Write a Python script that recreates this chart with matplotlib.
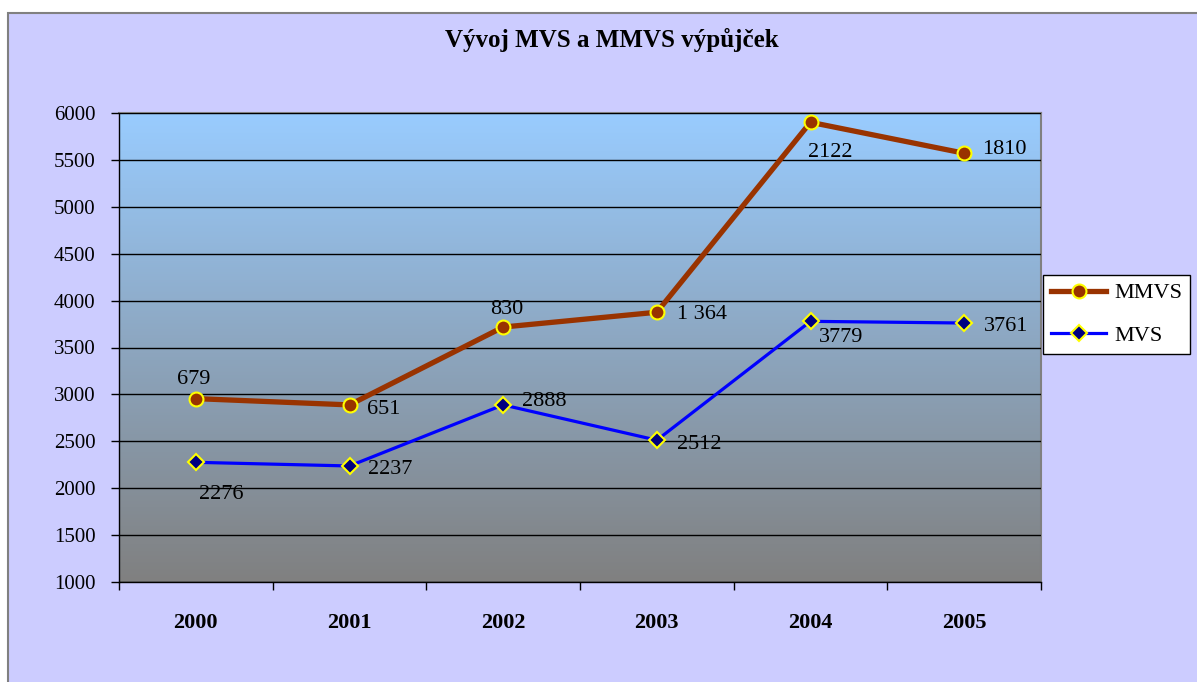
import numpy as np
import matplotlib
matplotlib.use("Agg")
import matplotlib.pyplot as plt
from matplotlib.patches import Rectangle
from matplotlib.colors import LinearSegmentedColormap

years = ["2000", "2001", "2002", "2003", "2004", "2005"]
mvs = [2276, 2237, 2888, 2512, 3779, 3761]
mmvs = [679, 651, 830, 1364, 2122, 1810]
mmvs_labels = ["679", "651", "830", "1 364", "2122", "1810"]
mvs_labels = ["2276", "2237", "2888", "2512", "3779", "3761"]
yticks = [1000, 1500, 2000, 2500, 3000, 3500, 4000, 4500, 5000, 5500, 6000]

plt.rcParams['font.family'] = ['Liberation Serif', 'DejaVu Serif']

W, H = 1197, 682
fig = plt.figure(figsize=(W/100, H/100), dpi=100)
fig.patch.set_facecolor('white')

# outer chart frame
frame = Rectangle((8/W, -0.1), 1.2, 1 - 13/H + 0.1, transform=fig.transFigure,
                  facecolor='#CCCCFF', edgecolor='#808080', lw=1.5, zorder=-5)
fig.patches.append(frame)

ax = fig.add_axes([119/W, 1 - 582/H, (1041-119)/W, (582-113)/H])
ax.set_zorder(2)
ax.set_facecolor('none')

# gradient background
cmap = LinearSegmentedColormap.from_list('g', ['#808080', '#99CCFF'])
grad = np.linspace(0, 1, 256).reshape(-1, 1)
ax.imshow(grad, extent=[0, 1, 0, 1], transform=ax.transAxes, origin='lower',
          cmap=cmap, aspect='auto', zorder=0)

x = np.arange(len(years))
stacked = np.add(mvs, mmvs)

ax.set_xlim(-0.5, len(years) - 0.5)
ax.set_ylim(1000, 6000)
ax.set_yticks(yticks)
ax.set_yticklabels([str(v) for v in yticks], fontsize=15)
ax.yaxis.grid(True, color='black', lw=1, zorder=1)
ax.set_axisbelow(False)

ax.set_xticks(x)
ax.set_xticklabels(years, fontsize=16, fontweight='bold')
ax.set_xticks(np.arange(-0.5, len(years)), minor=True)
ax.tick_params(axis='x', which='major', length=0, pad=22)
ax.tick_params(axis='x', which='minor', length=5.5, width=1, color='black')
ax.tick_params(axis='y', length=5.8, width=1, pad=11)

for s in ['top', 'right']:
    ax.spines[s].set_color('#808080')
    ax.spines[s].set_linewidth(1.5)
for s in ['left', 'bottom']:
    ax.spines[s].set_color('black')
    ax.spines[s].set_linewidth(1)

ax.plot(x, stacked, color='#993300', lw=3.8, marker='o', markersize=10,
        markerfacecolor='#993300', markeredgecolor='#FFFF00', markeredgewidth=1.5,
        label='MMVS', zorder=4, clip_on=False)
ax.plot(x, mvs, color='#0000FF', lw=2.3, marker='D', markersize=8.5,
        markerfacecolor='#000080', markeredgecolor='#FFFF00', markeredgewidth=1.5,
        label='MVS', zorder=4, clip_on=False)

# label offsets in pixels (dx, dy) relative to point, dy positive upward
mm_off = [(-2, 19), (34, -5), (4, 18), (45, -2), (20, -30), (40, 4)]
mv_off = [(25, -32), (41, -4), (41, 3), (42, -4), (31, -16), (42, -3)]
px2pt = 0.72
for i in range(len(years)):
    dx, dy = mm_off[i]
    ax.annotate(mmvs_labels[i], (x[i], stacked[i]), xytext=(dx*px2pt, dy*px2pt),
                textcoords='offset points', ha='center', va='center', fontsize=16, zorder=5)
    dx, dy = mv_off[i]
    ax.annotate(mvs_labels[i], (x[i], mvs[i]), xytext=(dx*px2pt, dy*px2pt),
                textcoords='offset points', ha='center', va='center', fontsize=16, zorder=5)

fig.text(612/W, 1 - 40/H, 'Vývoj MVS a MMVS výpůjček', ha='center', va='center',
         fontsize=18, fontweight='bold')

leg = fig.legend(loc='upper left', bbox_to_anchor=(1043/W, 1 - 275/H), fontsize=16,
                 frameon=True, fancybox=False, edgecolor='black', framealpha=1,
                 handlelength=2.5, borderpad=0.35, labelspacing=1.0, handletextpad=0.35,
                 borderaxespad=0)
leg.get_frame().set_linewidth(1)

fig.savefig('out.png', dpi=100)
